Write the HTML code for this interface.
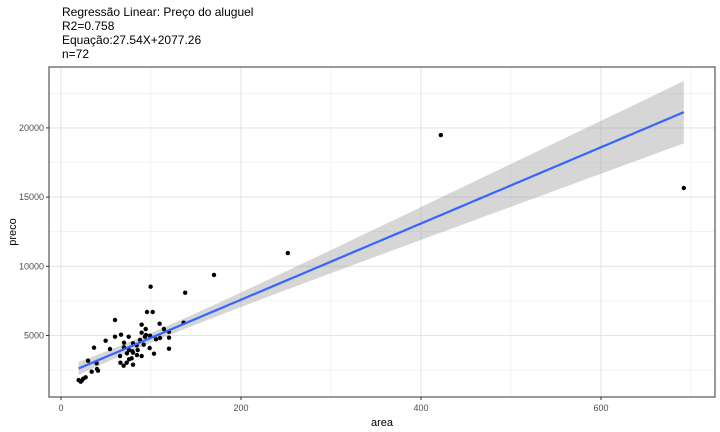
<!DOCTYPE html>
<html><head><meta charset="utf-8">
<style>
body{margin:0;background:#fff;font-family:"Liberation Sans",Arial,sans-serif;}
svg{display:block}
</style></head>
<body>
<svg id="chart" width="720" height="432" xmlns="http://www.w3.org/2000/svg">
<g font-size="12" fill="#000">
<text x="62" y="16">Regressão Linear: Preço do aluguel</text>
<text x="62" y="30">R2=0.758</text>
<text x="62" y="44">Equação:27.54X+2077.26</text>
<text x="62" y="58">n=72</text>
</g>
<rect x="49" y="67" width="666" height="330" fill="#fff"/>
<g id="grid"></g>
<g id="ribbon"></g>
<g id="points"></g>
<g id="fitline"></g>
<rect x="49" y="67" width="666" height="330" fill="none" stroke="#333" stroke-width="1"/>
<g id="axes"></g>
<text x="382" y="426" font-size="11" text-anchor="middle" fill="#000">area</text>
<text transform="translate(16,232) rotate(-90)" font-size="11" text-anchor="middle" fill="#000">preco</text>
</svg>
<script>
const areas=[170,99.6,138,60,95.6,101.9,89.6,94.1,109.6,114.4,89.6,66.7,60,75.2,49.6,94.4,98.9,120,105.6,110,120,70,80,91.9,84.1,36.7,54.4,70,75.6,79.3,85.2,98.5,65.6,73.3,80,89.6,103.3,120,84.4,78.5,75.6,30,66,69.6,73,80,39.6,34.1,40,41.1,27.4,24.8,19.6,21.9,23,136.3,93.3,87.8,252,422,692];
const precos=[9372,8526,8092,6120,6698,6698,5782,5469,5855,5469,5204,5060,4915,4915,4626,5036,4987,5276,4722,4819,4843,4481,4433,4337,4289,4120,4024,4144,3951,3855,3951,4096,3518,3711,3759,3518,3686,4048,3590,3349,3277,3180,3036,2819,3036,2892,2988,2385,2578,2458,1976,1880,1783,1663,1735,5927,4915,4674,10960,19486,15657];
const xTicks=[0,200,400,600];
const xMinor=[100,300,500,700];
const yTicks=[5000,10000,15000,20000];
const yMinor=[2500,7500,12500,17500,22500];
const slope=27.54, intercept=2077.26;

const X=v=>61+v*0.9;
const Y=v=>404.7-v*0.01384;
const NS="http://www.w3.org/2000/svg";
function mk(tag,attrs,parent){const e=document.createElementNS(NS,tag);for(const k in attrs)e.setAttribute(k,attrs[k]);document.getElementById(parent).appendChild(e);return e;}

xMinor.forEach(v=>{const l=mk('line',{x1:X(v),x2:X(v),y1:67,y2:397,stroke:'#ebebeb','stroke-width':0.6},'grid');

});
yMinor.forEach(v=>{const l=mk('line',{x1:49,x2:715,y1:Y(v),y2:Y(v),stroke:'#ebebeb','stroke-width':0.6},'grid');

});
xTicks.forEach(v=>{const l=mk('line',{x1:X(v),x2:X(v),y1:67,y2:397,stroke:'#e5e5e5','stroke-width':1.1},'grid');


const t=mk('line',{x1:X(v),x2:X(v),y1:397,y2:400,stroke:'#333'},'axes');


const tx=mk('text',{x:X(v),y:411,'font-size':9,'text-anchor':'middle',fill:'#4d4d4d'},'axes');tx.textContent=v;

});
yTicks.forEach(v=>{const l=mk('line',{x1:49,x2:715,y1:Y(v),y2:Y(v),stroke:'#e5e5e5','stroke-width':1.1},'grid');


const t=mk('line',{x1:46,x2:49,y1:Y(v),y2:Y(v),stroke:'#333'},'axes');


const tx=mk('text',{x:44,y:Y(v)+3,'font-size':9,'text-anchor':'end',fill:'#4d4d4d'},'axes');tx.textContent=v;

});

const n=areas.length;
const mx=areas.reduce((a,b)=>a+b,0)/n;
let sxx=0,sse=0;
for(let i=0;i<n;i++){sxx+=(areas[i]-mx)**2;sse+=(precos[i]-(intercept+slope*areas[i]))**2;}
const s=Math.sqrt(sse/(n-2));
const xmin=Math.min(...areas),xmax=Math.max(...areas);
let up=[],lo=[],ln=[];
for(let k=0;k<=80;k++){const x=xmin+(xmax-xmin)*k/80;const yh=intercept+slope*x;
const se=s*Math.sqrt(1/n+(x-mx)**2/sxx)*1.85;
up.push(X(x)+','+Y(yh+se));lo.unshift(X(x)+','+Y(yh-se));ln.push(X(x)+','+Y(yh));}
const rb=mk('polygon',{points:up.concat(lo).join(' '),fill:'#999',opacity:0.4},'ribbon');


const fl=mk('polyline',{points:ln.join(' '),fill:'none',stroke:'#3366ff','stroke-width':2.2},'fitline');


for(let i=0;i<n;i++){const c=mk('circle',{cx:X(areas[i]),cy:Y(precos[i]),r:2.2,fill:'#000'},'points');

}
</script>
</body></html>
